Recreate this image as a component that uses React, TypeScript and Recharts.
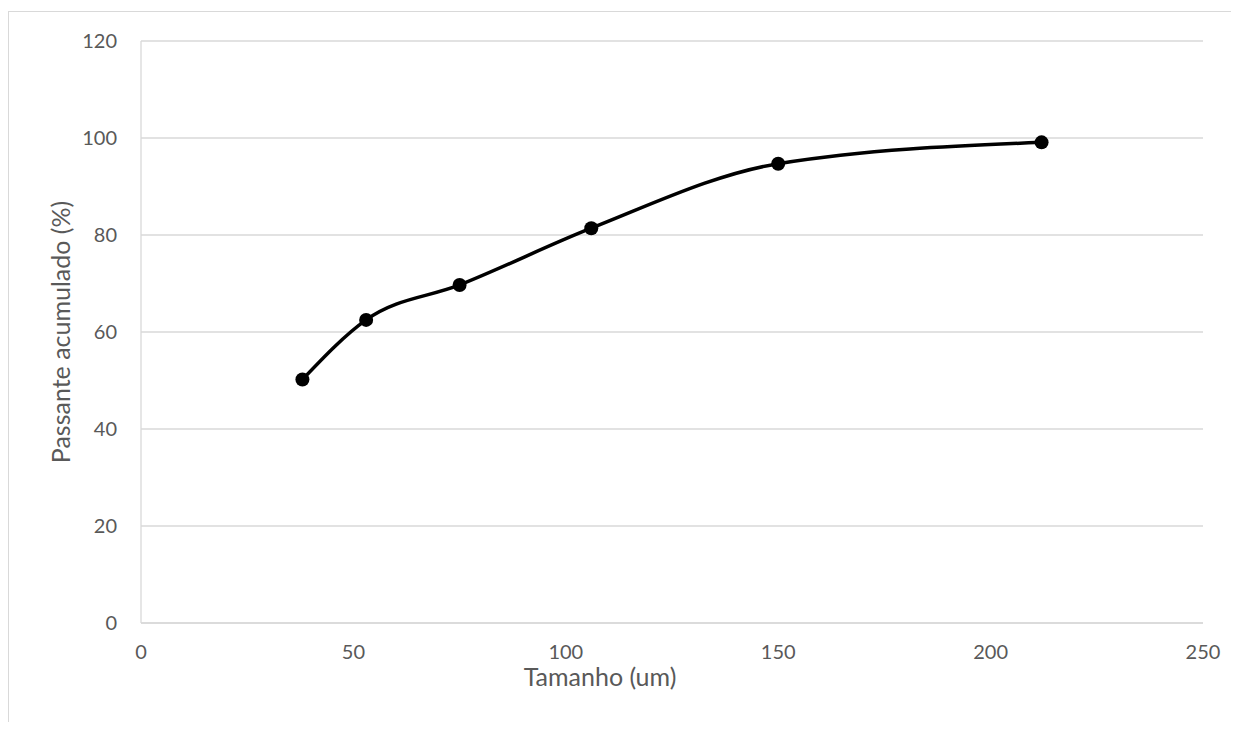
import React from 'react';
import { LineChart, Line, XAxis, YAxis, CartesianGrid, Label } from 'recharts';

// particle size (um) vs cumulative passing (%)
const sizes = [38, 53, 75, 106, 150, 212];
const passing = [50.2, 62.5, 69.7, 81.4, 94.7, 99.1];
const xTicks = [0, 50, 100, 150, 200, 250];
const yTicks = [0, 20, 40, 60, 80, 100, 120];

const data = sizes.map((s, i) => ({ size: s, passing: passing[i] }));

const tickStyle = { fill: '#595959', fontSize: 20 };

const App: React.FC = () => {
    return (
        <div style={{ marginTop: 3, marginRight: -8, height: 710, borderTop: '1px solid #d9d9d9', borderLeft: '1px solid #d9d9d9', fontFamily: 'Lato, "Open Sans", sans-serif' }}>
            <LineChart width={1214} height={710} data={data} margin={{ top: 29, right: 20, left: 0, bottom: 0 }}>
                <CartesianGrid vertical={false} stroke="#d9d9d9" strokeWidth={1.3} />
                <XAxis
                    dataKey="size"
                    type="number"
                    domain={[0, 250]}
                    ticks={xTicks}
                    height={99}
                    tickLine={false}
                    tickSize={0}
                    tickMargin={22}
                    axisLine={{ stroke: '#d9d9d9', strokeWidth: 1.3 }}
                    tick={tickStyle}
                >
                    <Label value="Tamanho (um)" position="insideBottom" offset={36} dx={-72} style={{ fill: '#595959', fontSize: 25 }} />
                </XAxis>
                <YAxis
                    type="number"
                    domain={[0, 120]}
                    ticks={yTicks}
                    width={132}
                    tickLine={false}
                    tickSize={0}
                    tickMargin={24}
                    axisLine={{ stroke: '#d9d9d9', strokeWidth: 1.3 }}
                    tick={tickStyle}
                >
                    <Label value="Passante acumulado (%)" angle={-90} position="insideLeft" offset={52} style={{ fill: '#595959', fontSize: 25, textAnchor: 'middle' }} />
                </YAxis>
                <Line
                    type="monotone"
                    dataKey="passing"
                    stroke="#000"
                    strokeWidth={3.5}
                    dot={{ r: 7, fill: '#000', stroke: '#000', strokeWidth: 0 }}
                    isAnimationActive={false}
                />
            </LineChart>
        </div>
    );
};

export default App;
